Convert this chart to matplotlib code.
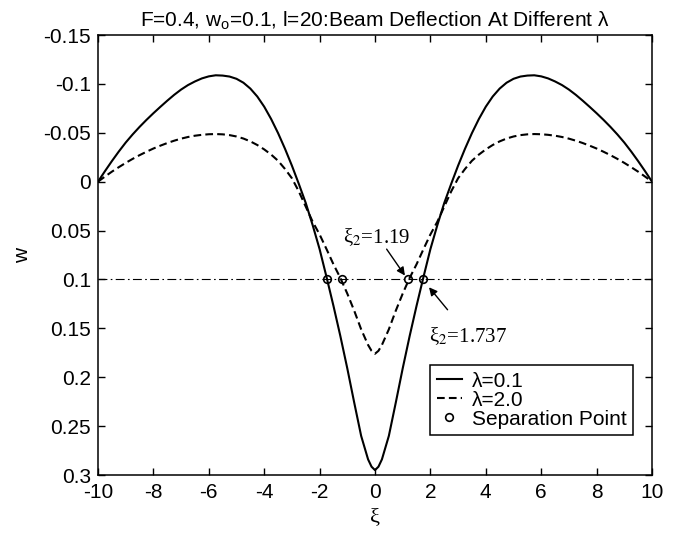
import matplotlib
matplotlib.use("Agg")
import matplotlib.pyplot as plt

# ---- data ----
xi = [-10, -9.75, -9.5, -9.25, -9, -8.75, -8.5, -8.25, -8, -7.75, -7.5, -7.25, -7,
      -6.75, -6.5, -6.25, -6, -5.75, -5.5, -5.25, -5, -4.75, -4.5, -4.25, -4,
      -3.75, -3.5, -3.25, -3, -2.75, -2.5, -2.25, -2, -1.75, -1.5, -1.25, -1,
      -0.75, -0.5, -0.25, -0.125, 0,
      0.125, 0.25, 0.5, 0.75, 1, 1.25, 1.5, 1.75, 2, 2.25, 2.5, 2.75, 3,
      3.25, 3.5, 3.75, 4, 4.25, 4.5, 4.75, 5, 5.25, 5.5, 5.75, 6,
      6.25, 6.5, 6.75, 7, 7.25, 7.5, 7.75, 8, 8.25, 8.5, 8.75, 9, 9.25, 9.5, 9.75, 10]

w_lam01 = [0, -0.0107, -0.0210, -0.0308, -0.0400, -0.0483, -0.0560, -0.0632, -0.0700,
           -0.0765, -0.0828, -0.0888, -0.0942, -0.0988, -0.1025, -0.1056, -0.1077,
           -0.1088, -0.1085, -0.1075, -0.1052, -0.1012, -0.0952, -0.0871, -0.0767,
           -0.0641, -0.0497, -0.0337, -0.0164, 0.0023, 0.0218, 0.0445, 0.0690,
           0.0975, 0.1270, 0.1580, 0.1910, 0.2260, 0.2600, 0.2840, 0.2915, 0.2950,
           0.2915, 0.2840, 0.2600, 0.2260, 0.1910, 0.1580, 0.1270, 0.0975, 0.0690,
           0.0445, 0.0218, 0.0023, -0.0164, -0.0337, -0.0497, -0.0641, -0.0767,
           -0.0871, -0.0952, -0.1012, -0.1052, -0.1075, -0.1085, -0.1088, -0.1077,
           -0.1056, -0.1025, -0.0988, -0.0942, -0.0888, -0.0828, -0.0765, -0.0700,
           -0.0632, -0.0560, -0.0483, -0.0400, -0.0308, -0.0210, -0.0107, 0]

w_lam20 = [0, -0.0052, -0.0102, -0.0148, -0.0192, -0.0233, -0.0271, -0.0306, -0.0339,
           -0.0368, -0.0395, -0.0419, -0.0440, -0.0457, -0.0470, -0.0479, -0.0485,
           -0.0487, -0.0484, -0.0476, -0.0462, -0.0441, -0.0412, -0.0375, -0.0330,
           -0.0277, -0.0214, -0.0130, -0.0035, 0.0100, 0.0255, 0.0410, 0.0540,
           0.0690, 0.0845, 0.0985, 0.1145, 0.1320, 0.1510, 0.1670, 0.1730, 0.1760,
           0.1730, 0.1670, 0.1510, 0.1320, 0.1145, 0.0985, 0.0845, 0.0690, 0.0540,
           0.0410, 0.0255, 0.0100, -0.0035, -0.0130, -0.0214, -0.0277, -0.0330,
           -0.0375, -0.0412, -0.0441, -0.0462, -0.0476, -0.0484, -0.0487, -0.0485,
           -0.0479, -0.0470, -0.0457, -0.0440, -0.0419, -0.0395, -0.0368, -0.0339,
           -0.0306, -0.0271, -0.0233, -0.0192, -0.0148, -0.0102, -0.0052, 0]

w0 = 0.1
sep_xi = [-1.737, -1.19, 1.19, 1.737]
sep_w = [w0, w0, w0, w0]

xticks = [-10, -8, -6, -4, -2, 0, 2, 4, 6, 8, 10]
yticks = [-0.15, -0.1, -0.05, 0, 0.05, 0.1, 0.15, 0.2, 0.25, 0.3]
ylabels = ["-0.15", "-0.1", "-0.05", "0", "0.05", "0.1", "0.15", "0.2", "0.25", "0.3"]

# ---- style ----
plt.rcParams['font.family'] = ['Liberation Sans', 'DejaVu Sans']
plt.rcParams['font.size'] = 15
plt.rcParams['axes.unicode_minus'] = False
plt.rcParams['mathtext.fontset'] = 'custom'
plt.rcParams['mathtext.rm'] = 'Liberation Sans'
plt.rcParams['mathtext.it'] = 'Liberation Sans'

fig = plt.figure(figsize=(6.76, 5.4), dpi=100)
ax = fig.add_axes([98 / 676, 1 - 475 / 540, 554 / 676, 440 / 540])

ax.plot(xi, w_lam01, color='k', lw=1.5, label='λ=0.1')
ax.plot(xi, w_lam20, color='k', lw=1.5, linestyle=(0, (3.7, 2)), label='λ=2.0')
ax.axhline(w0, color='k', lw=0.8, linestyle=(0, (8, 3, 1.5, 3)))
ax.plot(sep_xi, sep_w, 'o', mfc='none', mec='k', ms=5.5, mew=1.2, linestyle='none',
        label='Separation Point')

# annotations
ax.annotate('', xy=(1.08, 0.096), xytext=(0.42, 0.069),
            arrowprops=dict(arrowstyle='-|>', color='k', lw=1, mutation_scale=12,
                            shrinkA=0, shrinkB=0))
ax.annotate('', xy=(1.95, 0.108), xytext=(2.62, 0.131),
            arrowprops=dict(arrowstyle='-|>', color='k', lw=1, mutation_scale=12,
                            shrinkA=0, shrinkB=0))
ax.text(0.06, 0.057, 'ξ$_2$=1.19', family='Liberation Serif', math_fontfamily='stix',
        ha='center', va='center', fontsize=15)
ax.text(1.94, 0.158, 'ξ$_2$=1.737', family='Liberation Serif', math_fontfamily='stix',
        ha='left', va='center', fontsize=15)

ax.set_xlim(-10, 10)
ax.set_ylim(0.3, -0.15)
ax.set_xticks(xticks)
ax.set_yticks(yticks)
ax.set_yticklabels(ylabels)
ax.tick_params(direction='in', length=5, width=1, top=True, right=True, labelsize=15)
ax.tick_params(axis='x', pad=6)
ax.tick_params(axis='y', pad=5)
for s in ax.spines.values():
    s.set_linewidth(1.1)

ax.set_title('F=0.4, w$_o$=0.1, l=20:Beam Deflection At Different λ', fontsize=15, pad=6)
ax.set_xlabel('ξ', family='Liberation Serif', fontsize=16, labelpad=4)
ax.set_ylabel('w', fontsize=15, labelpad=8)

leg = ax.legend(loc='lower right', bbox_to_anchor=(0.966, 0.091), borderaxespad=0,
                fancybox=False, edgecolor='k', framealpha=1, fontsize=15,
                handlelength=1.2, handletextpad=0.5, labelspacing=0, borderpad=0.3)
leg.get_frame().set_linewidth(1.1)

fig.savefig('out.png', dpi=100)
